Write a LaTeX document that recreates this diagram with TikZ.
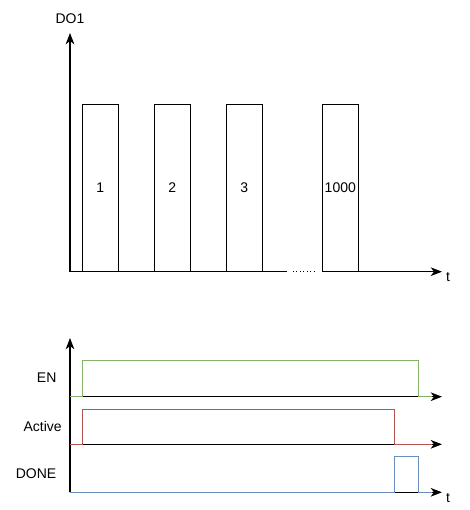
\documentclass[tikz,border=0pt]{standalone}
\usepackage{fontspec}
\setmainfont{Liberation Sans}
\usetikzlibrary{positioning, arrows.meta}
\tikzset{
  axis/.style={line width=0.8pt, -{Stealth[length=8.5pt, width=6.5pt, inset=2.5pt]}},
  pulse/.style={rectangle, draw=black, line width=0.8pt, minimum width=27pt, minimum height=125.8pt, inner sep=0pt},
  siglabel/.style={font=\fontsize{10.5}{12}\selectfont, inner sep=1pt},
  wave/.style={line width=0.8pt}
}
\definecolor{enwave}{RGB}{130,179,102}
\definecolor{actwave}{RGB}{184,84,80}
\definecolor{donewave}{RGB}{108,142,191}

\begin{document}
\begin{tikzpicture}[x=0.75pt, y=-0.75pt]
    \useasboundingbox (0,0) rectangle (470,510);

    % 1. Salida DO1 con los pulsos
    \coordinate (O1) at (70,271.7);
    \coordinate (Y1) at (70,33);
    \coordinate (gapL) at (287,271.7);
    \coordinate (dotL) at (293,271.7);
    \coordinate (dotR) at (315,271.7);
    \coordinate (gapR) at (322.3,271.7);
    \coordinate (T1) at (442,271.7);

    \draw[axis] (O1) -- (Y1);
    \draw[line width=0.8pt] (O1) -- (gapL);
    \draw[line width=0.6pt, dotted] (dotL) -- (dotR);
    \draw[axis] (gapR) -- (T1);
    \node[siglabel] (do1) at (70,19) {DO1};
    \node[siglabel] (tup) at (448,277) {t};

    \foreach \cx/\num in {100.3/1, 172.3/2, 244.3/3, 340.3/1000} {
        \node[pulse, siglabel] (P\num) at (\cx,187.9) {\num};
    }

    % 2. Diagrama de tiempos EN / Active / DONE
    \coordinate (O2) at (70,492.3);
    \coordinate (Y2) at (70,338);
    \coordinate (en0) at (70,396.7);
    \coordinate (ac0) at (70,444.3);
    \coordinate (enT) at (442,396.7);
    \coordinate (acT) at (442,444.3);
    \coordinate (T2) at (442,492.3);

    \draw[axis] (O2) -- (Y2);
    \draw[axis] (en0) -- (enT);
    \draw[axis] (ac0) -- (acT);
    \draw[axis] (O2) -- (T2);

    \draw[wave, enwave] (en0) -- (82.3,396.7) -- (82.3,360.7) -- (418.3,360.7) -- (418.3,396.7) -- (432,396.7);
    \draw[wave, actwave] (ac0) -- (82.3,444.3) -- (82.3,409.3) -- (394.3,409.3) -- (394.3,444.3) -- (432,444.3);
    \draw[wave, donewave] (O2) -- (394.3,492.3) -- (394.3,456.7) -- (418.3,456.7) -- (418.3,492.3) -- (432,492.3);

    \node[siglabel] (en) at (46.7,378) {EN};
    \node[siglabel] (active) at (42.7,426) {Active};
    \node[siglabel] (done) at (36,474) {DONE};
    \node[siglabel] (tdown) at (448,498) {t};

\end{tikzpicture}
\end{document}
